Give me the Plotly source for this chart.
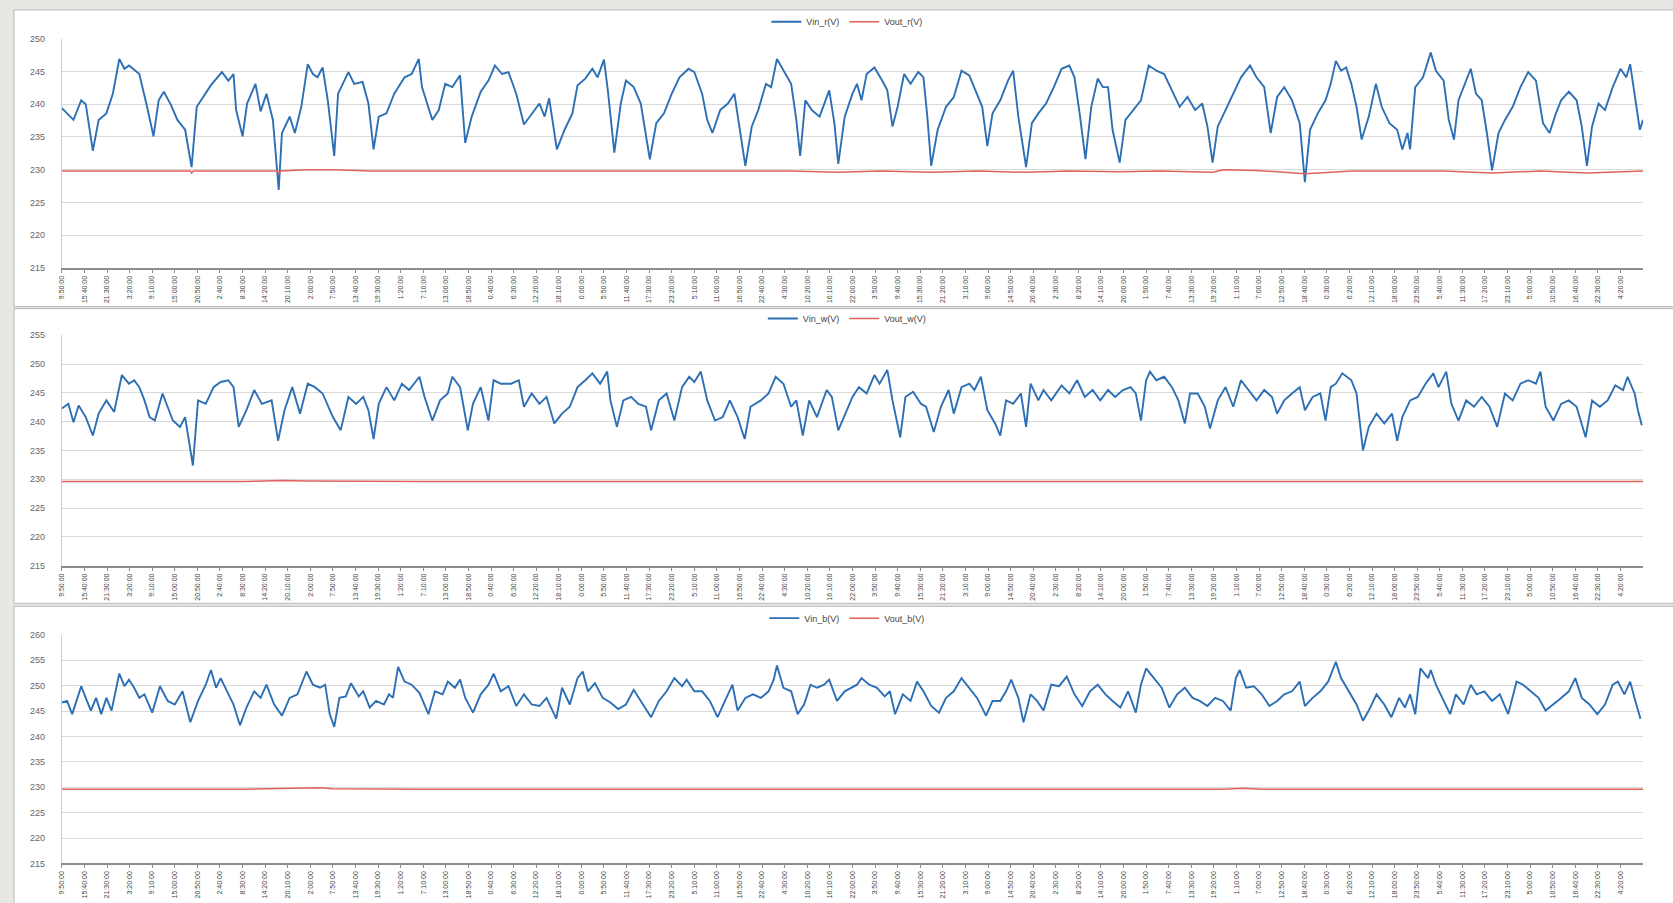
import plotly.graph_objects as go

# ---------------- data ----------------
tick_labels = ["9:50:00","15:40:00","21:30:00","3:20:00","9:10:00","15:00:00","20:50:00","2:40:00",
 "8:30:00","14:20:00","20:10:00","2:00:00","7:50:00","13:40:00","19:30:00","1:20:00","7:10:00",
 "13:00:00","18:50:00","0:40:00","6:30:00","12:20:00","18:10:00","0:00:00","5:50:00","11:40:00",
 "17:30:00","23:20:00","5:10:00","11:00:00","16:50:00","22:40:00","4:30:00","10:20:00","16:10:00",
 "22:00:00","3:50:00","9:40:00","15:30:00","21:20:00","3:10:00","9:00:00","14:50:00","20:40:00",
 "2:30:00","8:20:00","14:10:00","20:00:00","1:50:00","7:40:00","13:30:00","19:20:00","1:10:00",
 "7:00:00","12:50:00","18:40:00","0:30:00","6:20:00","12:10:00","18:00:00","23:50:00","5:40:00",
 "11:30:00","17:20:00","23:10:00","5:00:00","10:50:00","16:40:00","22:30:00","4:20:00"]
records_per_label = 35      # one record every 10 minutes, a label every 5h50
n_records = 2450

# sample number (10-minute records) and voltage, phase r
r_idx = [0,18,30,37,48,57,69,79,89,97,104,120,132,142,150,158,169,179,191,201,209,219,231,248,258,266,270,280,287,300,
 308,317,327,336,341,353,361,371,381,389,396,404,412,422,428,444,453,466,475,483,491,503,515,531,542,553,558,566,574,584,
 594,605,617,625,635,649,661,671,682,692,704,716,728,740,748,755,767,779,791,799,811,822,830,840,846,856,866,874,886,897,
 911,921,933,945,957,971,980,992,1000,1008,1020,1032,1042,1051,1059,1069,1079,1091,1099,1108,1118,1130,1138,1144,1152,1162,
 1174,1189,1197,1203,1213,1225,1232,1239,1247,1259,1271,1279,1287,1295,1305,1315,1327,1335,1341,1347,1357,1370,1382,1394,
 1406,1418,1426,1434,1442,1454,1466,1474,1482,1494,1503,1513,1525,1537,1549,1561,1569,1577,1586,1595,1605,1613,1621,1628,
 1639,1648,1660,1672,1684,1696,1708,1720,1732,1744,1756,1767,1775,1783,1791,1803,1815,1827,1841,1851,1863,1873,1883,1894,
 1906,1918,1926,1934,1946,1958,1966,1974,1982,1990,1998,2006,2014,2025,2036,2045,2057,2069,2077,2085,2089,2097,2109,2121,
 2129,2141,2149,2157,2164,2172,2183,2191,2200,2208,2216,2226,2236,2248,2260,2272,2284,2295,2305,2315,2323,2335,2347,2355,
 2363,2371,2381,2391,2403,2415,2424,2430,2438,2445,2450]
vin_r = [239.4,237.6,240.6,240.0,232.9,237.6,238.6,241.6,246.9,245.4,245.9,244.6,239.6,235.1,240.6,241.9,239.9,237.6,236.1,230.4,
 239.6,241.1,242.9,244.9,243.6,244.6,239.1,235.1,240.1,243.1,238.9,241.6,237.6,226.9,235.6,238.1,235.6,239.6,246.1,244.6,
 244.1,245.6,240.6,232.1,241.6,244.9,243.1,243.4,240.1,233.1,238.1,238.6,241.6,244.1,244.6,246.9,242.6,240.1,237.6,239.1,
 243.1,242.6,244.4,234.1,238.1,241.9,243.6,245.9,244.6,244.9,241.6,236.9,238.6,240.1,238.1,240.9,233.1,236.1,238.6,242.9,
 243.9,245.4,244.1,246.8,242.1,232.6,240.1,243.6,242.6,240.1,231.6,237.1,238.6,241.6,244.1,245.4,244.9,241.6,237.6,235.6,
 239.1,240.1,241.6,235.6,230.6,236.6,239.1,243.1,242.6,246.9,245.1,243.1,237.6,232.1,240.6,239.1,238.1,242.1,237.1,230.9,
 238.1,241.6,243.1,240.6,244.6,245.6,243.6,242.1,236.6,239.6,244.6,243.1,244.9,244.1,238.1,230.6,236.1,239.6,241.1,245.1,
 244.4,241.6,239.6,233.6,238.6,240.6,243.6,245.1,238.1,230.4,237.1,238.6,240.1,242.6,245.4,245.9,244.1,238.6,231.6,239.6,
 243.9,242.6,242.6,236.1,231.1,237.6,239.1,240.6,245.9,245.1,244.6,242.1,239.6,241.1,239.1,240.1,236.6,231.1,236.6,239.1,
 241.6,244.1,245.9,244.1,242.6,235.6,241.1,242.6,240.6,237.1,228.1,236.1,238.6,240.6,243.1,246.6,245.1,245.6,243.1,239.6,
 234.6,238.1,243.1,239.6,237.1,236.1,233.1,235.6,233.1,242.6,244.1,247.9,245.1,243.6,237.6,234.6,240.6,242.6,245.4,241.6,
 240.6,235.6,229.9,235.6,237.6,239.6,242.6,244.9,243.6,237.1,235.6,238.6,240.6,241.9,240.6,236.6,230.6,236.6,240.1,239.1,
 242.6,245.4,244.1,246.1,240.6,236.1,237.6]
r_out_idx = [0,70,140,199,201,204,270,334,336,339,380,420,480,560,630,700,770,840,910,980,1059,1130,1203,1270,1347,1420,
 1494,1560,1639,1700,1783,1800,1850,1926,2000,2070,2140,2216,2290,2363,2450]
vout_r = [229.8,229.8,229.8,229.8,229.5,229.8,229.8,229.8,229.4,229.8,230.0,230.0,229.8,229.8,229.7,229.8,229.8,229.8,229.8,
 229.8,229.7,229.8,229.6,229.8,229.6,229.8,229.6,229.8,229.7,229.8,229.6,230.0,229.9,229.4,229.8,229.8,229.8,229.5,229.8,
 229.5,229.8]

# phase w
w_idx = [0,10,18,26,37,48,57,69,81,93,104,112,120,128,136,144,156,164,172,183,191,203,211,223,235,246,258,266,274,286,298,
 310,325,335,345,357,369,381,392,404,420,432,444,456,467,475,483,491,503,515,527,538,554,562,574,586,598,605,617,629,637,
 649,661,669,680,696,708,716,728,740,751,763,775,787,799,811,822,834,845,850,860,870,882,893,905,913,925,937,949,961,972,
 980,990,1000,1012,1024,1035,1047,1058,1067,1083,1095,1106,1118,1130,1138,1148,1158,1170,1185,1193,1203,1225,1235,1247,
 1259,1267,1279,1287,1299,1307,1319,1331,1339,1351,1362,1374,1382,1394,1406,1414,1424,1434,1446,1454,1463,1474,1486,1494,
 1501,1513,1521,1533,1549,1561,1573,1585,1597,1609,1621,1632,1644,1656,1664,1672,1680,1686,1696,1708,1720,1730,1740,1748,
 1760,1771,1779,1791,1803,1815,1827,1839,1851,1863,1875,1883,1894,1906,1918,1926,1938,1950,1958,1966,1974,1984,1998,2006,
 2010,2016,2025,2037,2049,2061,2069,2077,2089,2101,2113,2125,2133,2145,2153,2164,2176,2188,2200,2212,2224,2236,2248,2260,
 2272,2284,2291,2299,2311,2323,2335,2347,2361,2371,2383,2395,2407,2419,2426,2437,2442,2448]
vin_w = [242.3,243.1,239.9,242.8,240.8,237.6,241.4,243.7,241.7,248.1,246.6,247.2,246.0,243.7,240.8,240.2,244.9,242.6,240.2,
 239.1,240.8,232.4,243.7,243.1,246.0,246.9,247.2,246.0,239.1,242.0,245.5,243.1,243.7,236.7,242.0,246.0,241.4,246.6,246.0,
 244.9,240.8,238.5,244.3,243.1,244.3,242.0,237.0,243.1,246.0,243.7,246.6,245.5,247.8,244.3,240.2,243.7,244.9,247.8,246.0,
 238.5,243.1,246.0,240.2,247.2,246.6,246.6,247.2,242.6,244.9,243.1,244.3,239.7,241.4,242.6,246.0,247.2,248.4,246.6,248.7,
 243.7,239.1,243.7,244.3,243.1,242.6,238.5,243.7,244.9,240.2,246.0,247.8,246.9,248.7,243.7,240.2,240.8,243.7,240.8,237.0,
 242.6,243.7,244.9,247.8,246.6,242.6,243.7,237.6,243.7,240.8,245.5,244.3,238.5,244.3,246.0,244.9,248.1,246.6,249.0,243.7,
 237.3,244.3,245.2,243.1,242.6,238.2,242.6,245.5,241.4,246.0,246.6,245.5,247.8,242.0,239.7,237.6,243.7,243.1,244.9,239.1,
 246.6,243.7,245.5,243.7,246.3,244.9,247.2,244.3,245.5,243.7,245.5,244.3,245.5,246.0,244.9,240.2,247.2,248.7,247.2,247.8,
 246.0,243.7,239.7,244.9,244.9,242.6,238.8,243.7,246.0,242.6,247.2,245.5,243.7,245.5,244.3,241.4,243.7,244.9,246.0,242.0,
 244.3,244.9,240.2,246.0,246.6,248.4,247.2,244.9,240.8,235.0,239.1,241.4,239.7,241.4,236.7,240.8,243.7,244.3,246.6,248.4,
 246.0,248.7,243.1,240.2,243.7,242.6,244.3,242.6,239.1,244.9,243.7,246.6,247.2,246.6,248.7,242.6,240.2,243.1,243.7,242.6,
 237.3,243.7,242.6,243.7,246.3,245.5,247.8,244.9,242.0,239.4]
w_out_idx = [0,140,280,340,380,560,700,840,980,1120,1260,1400,1540,1680,1820,1960,2100,2240,2380,2450]
vout_w = [229.6,229.6,229.6,229.8,229.7,229.6,229.6,229.6,229.6,229.6,229.6,229.6,229.6,229.6,229.7,229.6,229.6,229.6,229.6,
 229.6]

# phase b
b_idx = [0,8,16,30,37,45,53,61,69,77,89,97,104,112,120,128,140,152,164,175,187,199,211,223,231,239,246,258,266,276,286,298,
 308,317,329,341,353,365,379,389,400,408,415,422,430,440,448,460,467,477,487,499,507,513,521,531,542,554,568,578,590,598,
 609,617,625,637,649,661,669,680,692,704,716,728,740,751,766,775,787,799,807,815,826,838,850,862,874,886,897,913,925,937,
 949,961,968,980,992,1004,1016,1028,1039,1047,1059,1071,1083,1095,1103,1108,1118,1130,1140,1150,1160,1170,1181,1189,1201,
 1213,1232,1239,1251,1263,1275,1283,1291,1303,1315,1325,1335,1347,1359,1370,1382,1394,1406,1418,1432,1442,1454,1463,1471,
 1482,1490,1501,1511,1521,1533,1545,1557,1569,1581,1593,1605,1617,1628,1640,1652,1664,1672,1680,1692,1704,1716,1728,1740,
 1752,1763,1775,1787,1799,1811,1819,1825,1835,1847,1859,1871,1883,1894,1906,1918,1926,1938,1950,1962,1974,1982,1994,2006,
 2016,2025,2037,2049,2060,2072,2081,2089,2097,2105,2117,2121,2129,2141,2151,2160,2172,2183,2192,2204,2216,2228,2241,2254,
 2264,2276,2288,2299,2311,2323,2335,2345,2355,2367,2379,2391,2403,2411,2421,2430,2438,2446]
vin_b = [246.7,247.0,244.4,249.9,247.6,245.1,247.6,244.4,247.6,245.1,252.4,249.9,251.2,249.6,247.6,248.3,244.7,249.9,247.0,
 246.3,248.9,242.8,247.0,250.2,253.1,249.6,251.5,248.3,246.3,242.2,245.7,248.9,247.6,250.2,246.3,244.1,247.6,248.3,252.8,
 250.2,249.6,250.2,244.4,241.9,247.6,247.9,250.5,247.9,248.9,245.7,247.0,246.3,248.3,247.6,253.7,250.8,250.2,248.6,244.4,
 248.9,248.3,250.8,249.6,251.2,247.6,244.7,248.3,250.2,252.4,248.9,249.9,246.0,248.3,246.3,246.0,247.6,243.5,249.6,246.3,
 251.5,252.8,248.9,250.5,247.6,246.7,245.4,246.3,249.2,247.0,243.8,247.0,248.9,251.5,249.9,251.2,248.9,248.9,247.0,243.8,
 247.0,250.2,245.1,247.6,248.3,247.6,248.9,251.2,254.0,249.6,248.9,244.4,246.3,250.2,249.6,250.2,251.2,247.0,248.9,250.2,
 251.5,250.2,249.6,247.9,248.9,244.4,248.3,247.0,250.8,248.9,246.0,244.7,247.6,248.9,251.5,249.6,247.6,244.1,247.0,247.0,
 248.9,251.2,247.6,242.8,248.3,247.0,245.1,250.2,249.9,251.8,248.3,246.0,248.9,250.2,248.3,247.0,245.7,248.9,244.7,250.2,
 253.4,251.5,249.6,245.7,248.3,249.6,247.6,247.0,246.0,247.6,247.0,245.1,251.5,253.1,249.6,249.9,248.3,246.0,247.0,248.3,
 248.9,250.8,246.0,247.6,248.9,250.8,254.7,251.5,248.9,246.3,243.1,245.1,248.3,246.3,243.8,247.6,245.7,248.3,244.4,253.4,
 251.5,253.1,250.2,247.0,244.4,248.3,246.3,250.2,248.3,248.9,247.0,248.3,244.4,250.8,250.2,248.9,247.6,245.1,246.3,247.6,
 248.9,251.5,247.6,246.3,244.4,246.3,250.2,250.8,248.3,250.8,247.0,243.5]
b_out_idx = [0,140,280,400,420,560,700,840,980,1120,1260,1400,1540,1680,1800,1830,1860,1960,2100,2240,2380,2450]
vout_b = [229.6,229.6,229.6,229.9,229.7,229.6,229.6,229.6,229.6,229.6,229.6,229.6,229.6,229.6,229.6,229.8,229.6,229.6,229.6,
 229.6,229.6,229.6]

panels = [
    ("Vin_r(V)", "Vout_r(V)", r_idx, vin_r, r_out_idx, vout_r, [215, 250]),
    ("Vin_w(V)", "Vout_w(V)", w_idx, vin_w, w_out_idx, vout_w, [215, 255]),
    ("Vin_b(V)", "Vout_b(V)", b_idx, vin_b, b_out_idx, vout_b, [215, 260]),
]

# ---------------- layout helpers ----------------
W, H = 1673, 903
def px(x):
    return x / W
def py(y):
    return 1 - y / H

plot_x = [58, 1643]
plot_y = [(34, 266), (334, 567), (637, 868)]        # top/bottom pixel of each plot area
box_y = [(5, 305), (307, 605), (608, 920)]          # panel frames
legend_y = [17, 317, 620]

BLUE = "#2c6fb4"
RED = "#e0625c"
FONT = "Liberation Sans, Arial, sans-serif"

fig = go.Figure()
layout = dict(
    width=W, height=H, margin=dict(l=0, r=0, t=0, b=0),
    paper_bgcolor="#e9e7e4", plot_bgcolor="white",
    font=dict(family=FONT, color="#555555"),
    showlegend=True, shapes=[],
)

tickvals = [k * records_per_label for k in range(len(tick_labels))]

for i, (n_in, n_out, xi, yi, xo, yo, yr) in enumerate(panels):
    sfx = "" if i == 0 else str(i + 1)
    leg = "legend" + sfx
    fig.add_trace(go.Scatter(x=xi, y=yi, mode="lines", name=n_in,
                             line=dict(color=BLUE, width=1.9),
                             xaxis="x" + sfx, yaxis="y" + sfx, legend=leg))
    fig.add_trace(go.Scatter(x=xo, y=yo, mode="lines", name=n_out,
                             line=dict(color=RED, width=1.5),
                             xaxis="x" + sfx, yaxis="y" + sfx, legend=leg))
    top, bot = plot_y[i]
    layout["xaxis" + sfx] = dict(
        domain=[px(plot_x[0]), px(plot_x[1])], anchor="y" + sfx,
        range=[0, n_records], tickmode="array", tickvals=tickvals, ticktext=tick_labels,
        tickangle=-90, tickfont=dict(size=7, color="#444444", family=FONT),
        showgrid=False, zeroline=False, showline=True, linecolor="#8c8c8c", linewidth=2,
        ticks="outside", ticklen=3, tickcolor="#8c8c8c",
    )
    layout["yaxis" + sfx] = dict(
        domain=[py(bot), py(top)], anchor="x" + sfx, range=yr, dtick=5, tick0=215,
        showgrid=True, gridcolor="#d9d9d9", gridwidth=1, zeroline=False,
        showline=True, linecolor="#cfcfcf", linewidth=1,
        tickfont=dict(size=9, color="#666666", family=FONT), ticklabelstandoff=14,
    )
    layout[leg] = dict(
        orientation="h", x=0.505, xanchor="center", y=py(legend_y[i]), yanchor="middle",
        bgcolor="rgba(0,0,0,0)", font=dict(size=9, color="#444444", family=FONT),
        itemwidth=30, tracegroupgap=0,
    )
    b0, b1 = box_y[i]
    layout["shapes"].append(dict(
        type="rect", xref="paper", yref="paper", x0=px(10), x1=px(1700),
        y0=py(b1), y1=py(b0), fillcolor="white", line=dict(color="#b8b8b8", width=1),
        layer="below",
    ))

fig.update_layout(**layout)
fig.write_html("out.html", config={"displayModeBar": False},
               post_script="document.body.style.margin='0px';document.body.style.overflow='hidden';")
